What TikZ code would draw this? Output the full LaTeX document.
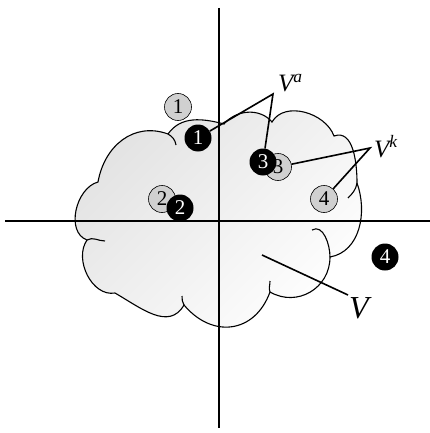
\documentclass[tikz,border=0pt]{standalone}
\usepackage{fontspec}
\setmainfont{Liberation Serif}
\usepackage{xcolor}
\definecolor{KreisGrau}{HTML}{D0D0D0}
\definecolor{WolkeHell}{HTML}{E2E2E2}

\begin{document}
\begin{tikzpicture}[x=1pt, y=-1pt,
  achse/.style={line width=2pt},
  wolke/.style={line width=1.1pt},
  verbinder/.style={line width=1.6pt},
  kreisgrau/.style={circle, draw, line width=0.6pt, fill=KreisGrau, minimum size=27pt, inner sep=0pt, font=\fontsize{21}{21}\selectfont},
  kreisschwarz/.style={circle, fill=black, text=white, minimum size=27pt, inner sep=0pt, font=\fontsize{21}{21}\selectfont},
  menge/.style={anchor=base west, inner sep=0pt, font=\fontsize{#1}{#1}\selectfont\itshape}
]

  \useasboundingbox (0,0) rectangle (430,433);

  % Eckpunkte der Wolke
  \coordinate (w1) at (168,134);
  \coordinate (w2) at (224,124);
  \coordinate (w3) at (272,122);
  \coordinate (w4) at (334,136);
  \coordinate (w5) at (357,183);
  \coordinate (w6) at (330,257);
  \coordinate (w7) at (270,292);
  \coordinate (w8) at (184,305);
  \coordinate (w9) at (115,293);
  \coordinate (w10) at (87,240);
  \coordinate (w11) at (98,182);

  % Wolke (Menge V)
  \draw[wolke, top color=WolkeHell, bottom color=white, shading angle=45]
    (w1) to[out=55, in=165] (w2)
         to[out=50, in=130] (w3)
         to[out=60, in=110] (w4)
         to[out=20, in=90] (w5)
         to[out=-70, in=10] (w6)
         to[out=-90, in=-30, looseness=1.15] (w7)
         to[out=-110, in=-50, looseness=1.3] (w8)
         to[out=-120, in=-30, looseness=1.1] (w9)
         to[out=190, in=235] (w10)
         to[out=160, in=195] (w11)
         to[out=80, in=160, looseness=1.1] (w1);

  % innere Boegen
  \draw[wolke] (w1) to[out=-30, in=100] (176,145);
  \draw[wolke] (w5) to[out=-100, in=45] (348,198);
  \draw[wolke] (w6) to[out=90, in=30] (312,230);
  \draw[wolke] (w7) to[out=110, in=-90] (270,281);
  \draw[wolke] (w8) to[out=120, in=-90] (182,296);
  \draw[wolke] (w10) to[out=30, in=180] (105,241);

  % Achsen
  \draw[achse] (5,221) -- (430,221);
  \draw[achse] (219,8) -- (219,428);

  % graue Punkte
  \node[kreisgrau] (g1) at (178,107) {1};
  \node[kreisgrau] (g2) at (162,199) {2};
  \node[kreisgrau] (g3) at (278,167) {3};
  \node[kreisgrau] (g4) at (324,199) {4};

  % schwarze Punkte
  \node[kreisschwarz] (s1) at (198,138) {1};
  \node[kreisschwarz] (s2) at (180,208) {2};
  \node[kreisschwarz] (s3) at (263,162) {3};
  \node[kreisschwarz] (s4) at (385,257) {4};

  % Beschriftungen
  \node[menge=25] (va) at (278,92) {V\textsuperscript{a}};
  \node[menge=25] (vk) at (374,157) {V\textsuperscript{k}};
  \node[menge=32] (v) at (349,318) {V};

  \coordinate (spitzeA) at (273,94);
  \coordinate (spitzeK) at (370,148);
  \coordinate (vinnen) at (262,255);
  \coordinate (vaussen) at (348,295);

  % Verbindungslinien
  \draw[verbinder] (s1) -- (spitzeA) -- (s3);
  \draw[verbinder] (g3) -- (spitzeK) -- (g4);
  \draw[verbinder] (vinnen) -- (vaussen);

\end{tikzpicture}
\end{document}
